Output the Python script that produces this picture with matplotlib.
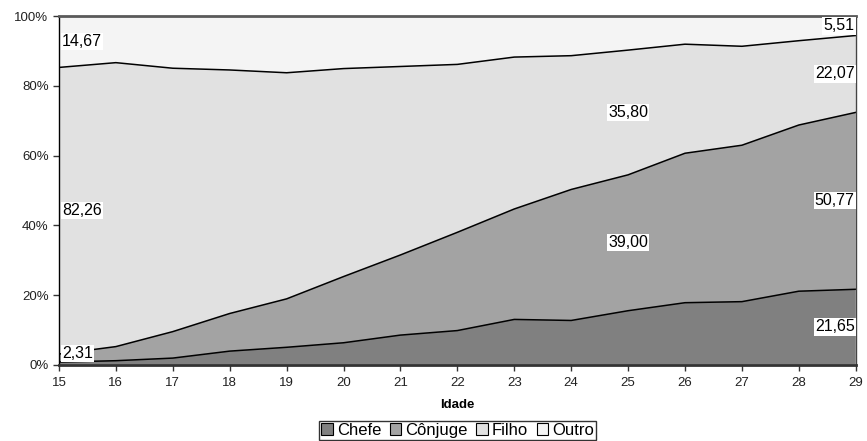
import matplotlib
matplotlib.use("Agg")
import matplotlib.pyplot as plt
import numpy as np
from matplotlib.ticker import FuncFormatter

plt.rcParams["font.family"] = ["Liberation Sans", "DejaVu Sans"]

# share of each household position by age (percent)
idade = [15, 16, 17, 18, 19, 20, 21, 22, 23, 24, 25, 26, 27, 28, 29]
chefe = [0.76, 1.15, 1.9, 3.9, 5.0, 6.3, 8.5, 9.8, 13.0, 12.7, 15.5, 17.8, 18.1, 21.1, 21.65]
conjuge = [2.31, 4.05, 7.6, 10.8, 13.9, 19.0, 23.0, 28.2, 31.7, 37.6, 39.00, 42.9, 44.9, 47.7, 50.77]
filho = [82.26, 81.5, 75.6, 69.9, 64.9, 59.7, 54.1, 48.2, 43.6, 38.4, 35.80, 31.3, 28.4, 24.2, 22.07]
outro = [14.67, 13.3, 14.9, 15.4, 16.2, 15.0, 14.4, 13.8, 11.7, 11.3, 9.7, 8.0, 8.6, 7.0, 5.51]

series = ["Chefe", "Cônjuge", "Filho", "Outro"]
cores = ["#808080", "#a3a3a3", "#e1e1e1", "#f4f4f4"]

# labelled points: (index into idade, series index)
rotulos = [(0, 3), (0, 2), (0, 1), (10, 2), (10, 1), (14, 3), (14, 2), (14, 1), (14, 0)]

x = np.array(idade)
valores = [chefe, conjuge, filho, outro]
dados = np.array(valores)
dados = dados / dados.sum(axis=0) * 100
acum = np.vstack([np.zeros(len(x)), np.cumsum(dados, axis=0)])

fig = plt.figure(figsize=(8.67, 4.41), dpi=100)
ax = fig.add_axes([0.068, 0.173, 0.919, 0.79])

for i, nome in enumerate(series):
    ax.fill_between(x, acum[i], acum[i + 1], facecolor=cores[i],
                    edgecolor="none", label=nome, zorder=1)
    if i < 3:
        ax.plot(x, acum[i + 1], color="black", lw=1.1, zorder=2)

# value labels centred in their band; keep the smallest ones off the axis
for idx, s in rotulos:
    val = valores[s][idx]
    meio = (acum[s][idx] + acum[s + 1][idx]) / 2
    meio = max(meio, 3.3)
    if idx == 0:
        ha, xp = "left", x[idx] + 0.05
    elif idx == len(x) - 1:
        ha, xp = "right", x[idx] - 0.02
    else:
        ha, xp = "center", x[idx]
    txt = f"{val:.2f}".replace(".", ",")
    ax.text(xp, meio, txt, ha=ha, va="center", fontsize=11.5, zorder=5,
            bbox=dict(facecolor="white", edgecolor="none", pad=0.8))

ax.set_xlim(15, 29)
ax.set_ylim(0, 100)
ax.set_xticks(idade)
ax.set_yticks(range(0, 101, 20))
ax.yaxis.set_major_formatter(FuncFormatter(lambda v, _: f"{v:.0f}%"))
ax.tick_params(axis="both", labelsize=9.5, length=4, width=1, direction="out",
               color="#333333", labelcolor="#222222")
ax.tick_params(axis="x", pad=5)
ax.set_xlabel("Idade", fontsize=9.5, fontweight="bold", labelpad=7)

ax.spines["top"].set_color("#5a5a5a")
ax.spines["top"].set_linewidth(2)
ax.spines["bottom"].set_color("#333333")
ax.spines["bottom"].set_linewidth(2)
ax.spines["left"].set_color("black")
ax.spines["left"].set_linewidth(1)
ax.spines["right"].set_color("#444444")
ax.spines["right"].set_linewidth(1)

handles = [plt.Rectangle((0, 0), 1, 1, facecolor=c, edgecolor="black", lw=0.8) for c in cores]
leg = fig.legend(handles, series, loc="center", bbox_to_anchor=(0.528, 0.024),
                 ncol=4, fontsize=12, frameon=True, fancybox=False,
                 handlelength=0.7, handleheight=0.7, handletextpad=0.25,
                 columnspacing=0.5, borderpad=0.12, borderaxespad=0)
leg.get_frame().set_edgecolor("black")
leg.get_frame().set_linewidth(1)

fig.savefig("out.png", dpi=100)
